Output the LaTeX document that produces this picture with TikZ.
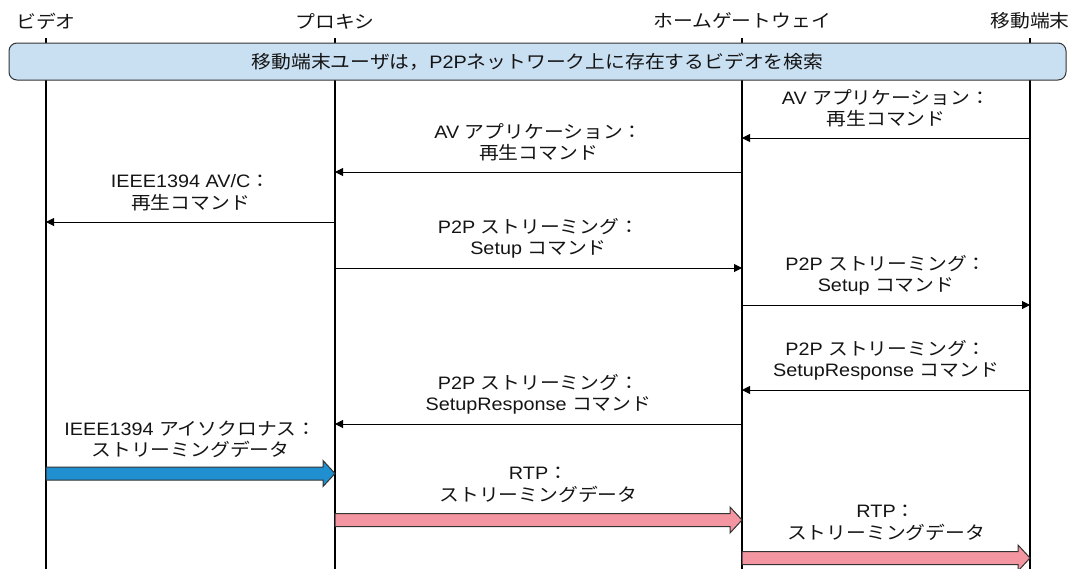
\documentclass[tikz,border=0pt]{standalone}
\usepackage{fontspec}
\setmainfont{Liberation Sans}[FakeStretch=1.1]
\newfontfamily\jp{Noto Sans CJK JP}[FakeStretch=1.1]
\usetikzlibrary{calc,arrows.meta}
\newcommand\J[1]{{\jp #1}}
\definecolor{boxfill}{RGB}{201,223,242}
\definecolor{boxline}{RGB}{51,51,51}
\definecolor{blockblue}{RGB}{31,143,207}
\definecolor{blockpink}{RGB}{244,150,161}
\definecolor{txt}{RGB}{20,20,20}
\newcommand\blkarrow[4]{%
  \draw[blk,fill=#4] ($(#1|-0,#3)+(0,-6.5)$) -- ($(#2|-0,#3)+(-12,-6.5)$)
    -- ($(#2|-0,#3)+(-12,-13)$) -- (#2|-0,#3) -- ($(#2|-0,#3)+(-12,13)$)
    -- ($(#2|-0,#3)+(-12,6.5)$) -- ($(#1|-0,#3)+(0,6.5)$) -- cycle;}
\begin{document}
\begin{tikzpicture}[x=1pt,y=-1pt,
  every node/.style={text=txt,font=\fontsize{18}{21.5}\selectfont},
  head/.style={inner sep=0pt},
  lifeline/.style={draw=black,line width=1.4pt},
  msg/.style={draw=black,line width=1pt,-{Triangle[length=8pt,width=8pt]}},
  lbl/.style={align=center,inner sep=0pt},
  blk/.style={draw=boxline,line width=1pt,line join=miter},
  banner/.style={draw=boxline,line width=1pt,fill=boxfill,rounded corners=8pt,
    minimum width=1057pt,minimum height=37pt,inner sep=0pt}]
\useasboundingbox (0,0) rectangle (1078,568);
% heads
\node[head] (hv) at (46,21) {\J{ビデオ}};
\node[head] (hp) at (335,21) {\J{プロキシ}};
\node[head] (hg) at (742,21) {\J{ホームゲートウェイ}};
\node[head] (hm) at (1030,21) {\J{移動端末}};
\coordinate (V) at (46,38);
\coordinate (P) at (335,38);
\coordinate (G) at (742,38);
\coordinate (M) at (1030,38);
\coordinate (E) at (0,570);
% lifelines
\foreach \c in {V,P,G,M} \draw[lifeline] (\c) -- (\c |- E);
% banner
\node[banner] (ban) at (537.5,61.5) {\J{移動端末ユーザは，}P2P\J{ネットワーク上に存在するビデオを検索}};
% messages
\draw[msg] (M|-0,138) -- (G|-0,138);
\node[lbl] (l1) at ($(G|-0,108.5)!0.5!(M|-0,108.5)$) {AV \J{アプリケーション：}\\\J{再生コマンド}};
\draw[msg] (G|-0,172) -- (P|-0,172);
\node[lbl] (l2) at ($(P|-0,142.5)!0.5!(G|-0,142.5)$) {AV \J{アプリケーション：}\\\J{再生コマンド}};
\draw[msg] (P|-0,222) -- (V|-0,222);
\node[lbl] (l3) at ($(V|-0,192.5)!0.5!(P|-0,192.5)$) {IEEE1394 AV/C\J{：}\\\J{再生コマンド}};
\draw[msg] (P|-0,268) -- (G|-0,268);
\node[lbl] (l4) at ($(P|-0,238.5)!0.5!(G|-0,238.5)$) {P2P \J{ストリーミング：}\\Setup \J{コマンド}};
\draw[msg] (G|-0,305) -- (M|-0,305);
\node[lbl] (l5) at ($(G|-0,275.5)!0.5!(M|-0,275.5)$) {P2P \J{ストリーミング：}\\Setup \J{コマンド}};
\draw[msg] (M|-0,390) -- (G|-0,390);
\node[lbl] (l6) at ($(G|-0,360.5)!0.5!(M|-0,360.5)$) {P2P \J{ストリーミング：}\\SetupResponse \J{コマンド}};
\draw[msg] (G|-0,424) -- (P|-0,424);
\node[lbl] (l7) at ($(P|-0,394.5)!0.5!(G|-0,394.5)$) {P2P \J{ストリーミング：}\\SetupResponse \J{コマンド}};
% block arrows
\blkarrow{V}{P}{473.5}{blockblue}
\node[lbl] (l8) at ($(V|-0,439.5)!0.5!(P|-0,439.5)$) {IEEE1394 \J{アイソクロナス：}\\\J{ストリーミングデータ}};
\blkarrow{P}{G}{520}{blockpink}
\node[lbl] (l9) at ($(P|-0,485)!0.5!(G|-0,485)$) {RTP\J{：}\\\J{ストリーミングデータ}};
\blkarrow{G}{M}{558}{blockpink}
\node[lbl] (l10) at ($(G|-0,523)!0.5!(M|-0,523)$) {RTP\J{：}\\\J{ストリーミングデータ}};
\end{tikzpicture}
\end{document}
